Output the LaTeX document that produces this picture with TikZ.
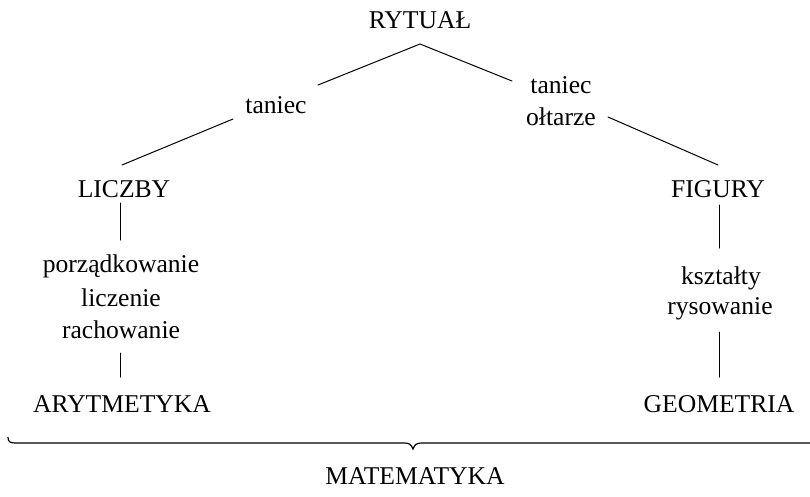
\documentclass[tikz,border=0pt]{standalone}
\usepackage{fontspec}
\setmainfont{Liberation Serif}
\begin{document}
\begin{tikzpicture}[x=1pt,y=-1pt,
  lbl/.style={inner sep=0pt,anchor=base,font=\fontsize{25.6}{30}\selectfont},
  conn/.style={line width=1pt,line cap=round}]
\useasboundingbox (0,0) rectangle (810,496);
% texts
\node[lbl] (rytual) at (420,28.5) {RYTUAŁ};
\node[lbl] (tanL) at (276,113) {taniec};
\node[lbl] (tanR) at (561,93) {taniec};
\node[lbl] (oltarze) at (561,125) {ołtarze};
\node[lbl] (liczby) at (124,197) {LICZBY};
\node[lbl] (figury) at (718,197) {FIGURY};
\node[lbl] (porz) at (121,272) {porządkowanie};
\node[lbl] (licz) at (121,306) {liczenie};
\node[lbl] (rach) at (121,338) {rachowanie};
\node[lbl] (ksz) at (721,284) {kształty};
\node[lbl] (rys) at (720,314) {rysowanie};
\node[lbl] (aryt) at (122,412) {ARYTMETYKA};
\node[lbl] (geom) at (719,412) {GEOMETRIA};
\node[lbl] (mat) at (415,484) {MATEMATYKA};
% connector ends
\coordinate (apex) at (420,44);
\coordinate (tanLin) at (318,85);
\coordinate (tanRin) at (512,81);
\coordinate (tanLout) at (233,119);
\coordinate (liczbyin) at (122,165);
\coordinate (oltout) at (608,117);
\coordinate (figin) at (718,165);
\coordinate (liczbyout) at (120,203);
\coordinate (porzin) at (120,240);
\coordinate (rachout) at (120,353);
\coordinate (arytin) at (120,377);
\coordinate (figout) at (719,205);
\coordinate (kszin) at (719,248);
\coordinate (rysout) at (719,332);
\coordinate (geomin) at (719,377);
% connectors
\draw[conn] (tanLin) -- (apex) -- (tanRin);
\draw[conn] (tanLout) -- (liczbyin);
\draw[conn] (oltout) -- (figin);
\draw[conn] (liczbyout) -- (porzin);
\draw[conn] (rachout) -- (arytin);
\draw[conn] (figout) -- (kszin);
\draw[conn] (rysout) -- (geomin);
% brace
\coordinate (brL) at (8,437);
\coordinate (brTip) at (413,449);
\coordinate (brR) at (812,443);
\draw[line width=1.2pt] (brL) .. controls (8,442) and (10,443) .. (16,443)
  -- (404,443) .. controls (409,443) and (411,444) .. (brTip)
  .. controls (415,444) and (417,443) .. (422,443) -- (brR);
\end{tikzpicture}
\end{document}
